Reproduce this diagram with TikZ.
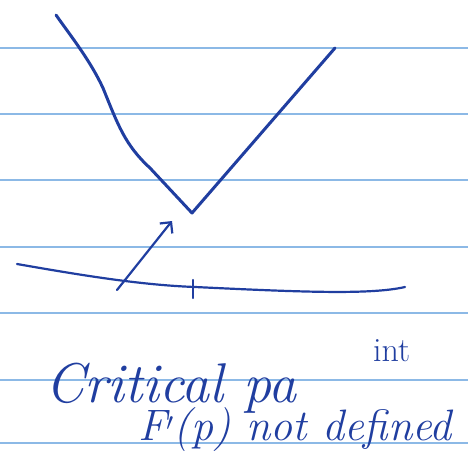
\documentclass[tikz,border=0pt]{standalone}
\usetikzlibrary{positioning,arrows.meta}
\definecolor{penblue}{RGB}{32,62,160}
\definecolor{ruleblue}{RGB}{140,185,230}

\begin{document}
\begin{tikzpicture}[
x=1pt,y=-1pt,
pen/.style={draw=penblue,line width=3pt,line cap=round,line join=round},
thinpen/.style={draw=penblue,line width=2.2pt,line cap=round,line join=round},
ruled/.style={draw=ruleblue,line width=1.4pt},
script/.style={text=penblue,inner sep=0pt,anchor=base west,font=\itshape},
>={Straight Barb[length=8pt,width=16pt]}]
\useasboundingbox (0,0) rectangle (474,466);
% paper
\foreach \y in {48,114,180,247,313,380,443}
  \draw[ruled] (0,\y) -- (468,\y);
% the V
\coordinate (top left) at (56,15);
\coordinate (vertex) at (192,213);
\coordinate (top right) at (335,48);
\draw[pen] (top left) .. controls (70,35) and (90,60) .. (103,88)
  .. controls (118,125) and (125,145) .. (150,168)
  -- (vertex) -- (top right);
% axis with the point p
\coordinate (ax start) at (17,264);
\coordinate (ax end) at (405,287);
\draw[thinpen] (ax start) .. controls (80,275) and (140,285) .. (195,287)
  .. controls (300,292) and (370,295) .. (ax end);
\coordinate (p) at (193,287);
\draw[thinpen] ([yshift=-11pt]p) -- ([yshift=7pt]p);
% arrow up to the corner
\coordinate (from) at (117,290);
\coordinate (to) at (172,221);
\draw[thinpen,->] (from) -- (to);
% notes
\node[script,font=\itshape\fontsize{56}{56}\selectfont] (crit) at (45,402) {Critical pa};
\node[script,font=\fontsize{34}{34}\selectfont] (int) at (373,361) {int};
\node[script,font=\itshape\fontsize{44}{44}\selectfont] (undef) at (138,440) {F$'$(p) not defined};
\end{tikzpicture}
\end{document}
